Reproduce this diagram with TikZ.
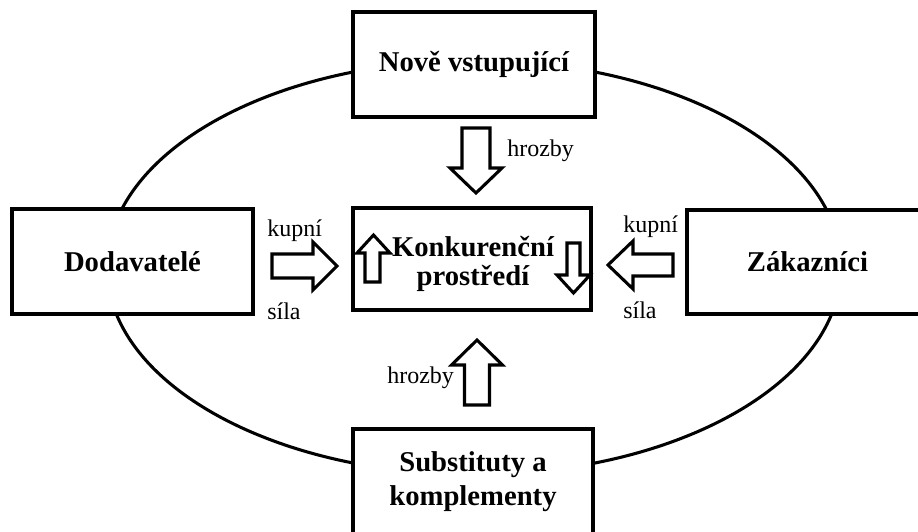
\documentclass[tikz,border=0pt]{standalone}
\usepackage{fontspec}
\setmainfont{Liberation Serif}
\begin{document}
\begin{tikzpicture}[x=0.75pt,y=-0.75pt,
  box/.style={draw=black,line width=2.6pt,fill=white,inner sep=0pt,
    font=\bfseries\fontsize{21.5}{19}\selectfont,align=center},
  lbl/.style={font=\fontsize{18}{20}\selectfont,anchor=base west,inner sep=0pt},
  barrow/.style={draw=black,line width=2.3pt,fill=white,line join=miter}]
\useasboundingbox (0,0) rectangle (918,532);
\clip (0,0) rectangle (918,532);
% ellipse
\draw[line width=2.3pt] (474,267.5) ellipse [x radius=275.25pt, y radius=155.25pt];
% boxes
\node[box,minimum width=180.75pt,minimum height=78.75pt] (dod) at (132.5,261.5) {Dodavatelé};
\node[box,minimum width=180.75pt,minimum height=78pt] (zak) at (807.5,262) {Zákazníci};
\node[box,minimum width=181.5pt,minimum height=78.75pt] (nove) at (474,64.5) {Nově vstupující};
\node[box,minimum width=180pt,minimum height=78.75pt,font=\bfseries\fontsize{21.5}{25}\selectfont] (sub) at (473,481.5) {Substituty a\\komplementy};
\node[box,minimum width=178.5pt,minimum height=76.5pt] (konk) at (472,259) {};
\node[font=\bfseries\fontsize{21.5}{21.5}\selectfont,align=center,inner sep=0pt] (konkt) at (473,264) {Konkurenční\\prostředí};
% big arrows
\draw[barrow] (272,254) -- (313,254) -- (313,242) -- (337,266) -- (313,290) -- (313,278) -- (272,278) -- cycle;
\draw[barrow] (673,254) -- (633,254) -- (633,241) -- (608,265) -- (633,289) -- (633,276) -- (673,276) -- cycle;
\draw[barrow] (462,128) -- (490,128) -- (490,168) -- (502,168) -- (476,193) -- (450,168) -- (462,168) -- cycle;
\draw[barrow] (464.5,405) -- (489.5,405) -- (489.5,365) -- (502.5,365) -- (477,340) -- (451.5,365) -- (464.5,365) -- cycle;
% small arrows in center box
\draw[barrow] (365,282) -- (380,282) -- (380,253) -- (390,253) -- (373.5,235) -- (357,253) -- (365,253) -- cycle;
\draw[barrow] (567,243) -- (580,243) -- (580,275) -- (590,275) -- (573.5,293) -- (557,275) -- (567,275) -- cycle;
% labels
\node[lbl] (k1) at (267,236) {kupní};
\node[lbl] (s1) at (267,319) {síla};
\node[lbl] (k2) at (623,232) {kupní};
\node[lbl] (s2) at (623,318) {síla};
\node[lbl] (h1) at (507,156) {hrozby};
\node[lbl] (h2) at (387,383) {hrozby};
\end{tikzpicture}
\end{document}
